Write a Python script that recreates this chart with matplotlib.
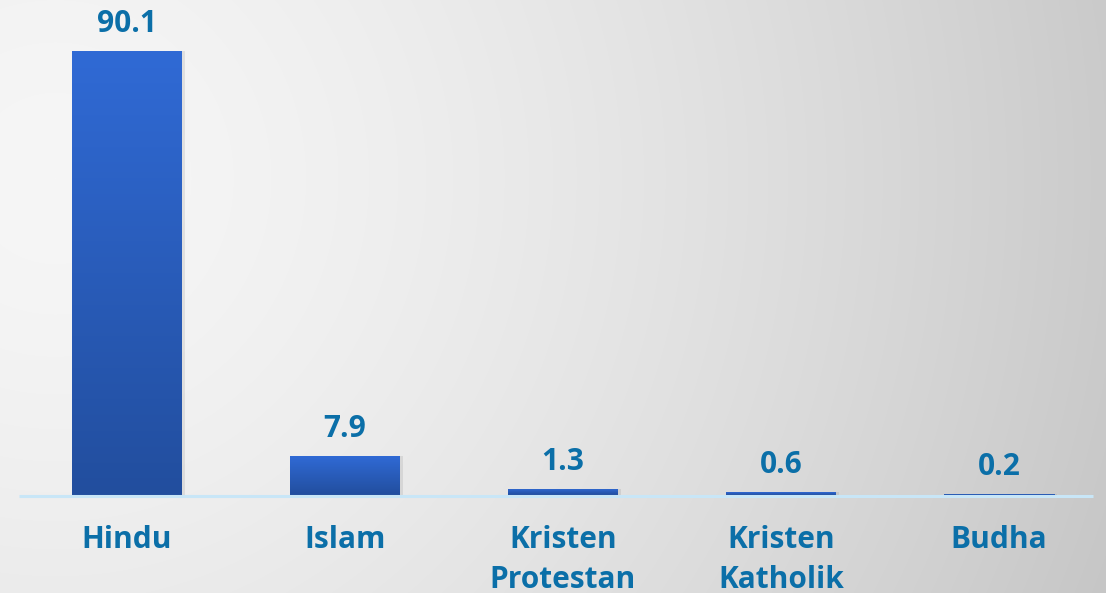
import numpy as np
import matplotlib
matplotlib.use("Agg")
import matplotlib.pyplot as plt

# data (percent of population by religion)
categories = ["Hindu", "Islam", "Kristen\nProtestan", "Kristen\nKatholik", "Budha"]
values = [90.1, 7.9, 1.3, 0.6, 0.2]
value_labels = ["90.1", "7.9", "1.3", "0.6", "0.2"]

TEXT_COLOR = "#0B6FA8"
BAR_TOP = np.array([48, 106, 213]) / 255
BAR_BOTTOM = np.array([34, 78, 158]) / 255
FONT = ["Open Sans", "DejaVu Sans"]

W, H = 1106, 593
fig = plt.figure(figsize=(W / 100, H / 100), dpi=100)

# background: soft radial grey gradient, lighter towards the top-left
bg = fig.add_axes([0, 0, 1, 1])
yy, xx = np.mgrid[0:H, 0:W]
d = np.hypot(xx - 55, yy - 178) / 1100
shade = (246 - 46 * d ** 1.5) / 255
bg.imshow(np.dstack([shade, shade, shade]), aspect="auto", extent=[0, 1, 0, 1])
bg.set_axis_off()

# main axes: baseline 98 px from bottom, 4.93 px per unit
base_px = 98
px_per_unit = 444 / 90.1
ax = fig.add_axes([0, base_px / H, 1, 1 - base_px / H])
ax.set_xlim(-127 / 218, (W - 127) / 218)
ax.set_ylim(0, (H - base_px) / px_per_unit)
ax.set_axis_off()
ax.patch.set_alpha(0)

x = np.arange(len(categories))
bars = ax.bar(x, values, width=110 / 218, color="none", edgecolor="none", zorder=3)

grad = np.linspace(0, 1, 256)[:, None]
grad_img = BAR_TOP[None, None, :] * (1 - grad[..., None]) + BAR_BOTTOM[None, None, :] * grad[..., None]

for b, v in zip(bars, values):
    x0, w = b.get_x(), b.get_width()
    # faint shadow on the right side
    ax.bar(x0 + w / 2 + 0.012, v, width=w, bottom=0, color="black", alpha=0.08, zorder=2,
           edgecolor="none")
    im = ax.imshow(grad_img, extent=[x0, x0 + w, 0, v], aspect="auto", zorder=3,
                   interpolation="bilinear")
    im.set_clip_path(b)

# baseline
ax.plot([19 / 218 - 127 / 218, (1093 - 127) / 218], [-0.25, -0.25], color="#C8E6F7",
        lw=2.2, zorder=4, solid_capstyle="butt", clip_on=False)

for xi, v, lab in zip(x, values, value_labels):
    ax.annotate(lab, (xi, v), xytext=(0, 13.7), textcoords="offset points",
                ha="center", va="baseline", fontsize=21.5, fontweight="bold",
                color=TEXT_COLOR, family=FONT)

for xi, cat in zip(x, categories):
    ax.annotate(cat, (xi, 0), xytext=(0, -21.5), textcoords="offset points",
                ha="center", va="top", fontsize=21.5, fontweight="bold",
                color=TEXT_COLOR, family=FONT, linespacing=1.45, annotation_clip=False)

fig.savefig("out.png", dpi=100)
